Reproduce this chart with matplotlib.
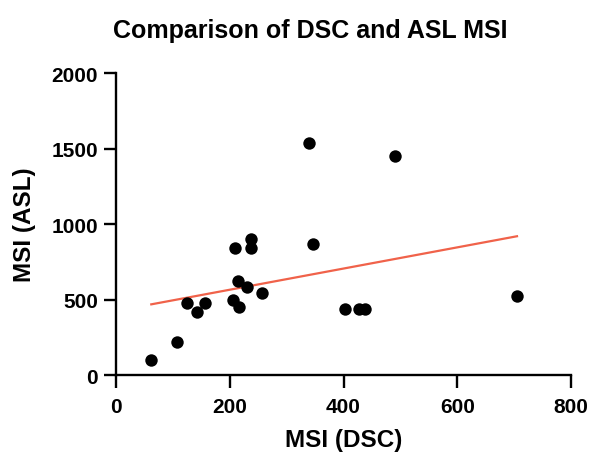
import numpy as np
import matplotlib
matplotlib.use("Agg")
import matplotlib.pyplot as plt

plt.rcParams['font.family'] = ['Liberation Sans', 'DejaVu Sans']

msi_dsc = [62, 107, 124, 143, 157, 205, 216, 214, 231, 257, 209, 238, 238,
           339, 346, 490, 403, 428, 438, 705]
msi_asl = [100, 216, 479, 419, 479, 497, 452, 625, 581, 543, 841, 903, 843,
           1534, 868, 1452, 435, 435, 435, 523]

# regression line as shown in the figure (endpoints at min/max DSC)
fit_x = [62, 705]
fit_y = [468, 919]

x_ticks = [0, 200, 400, 600, 800]
y_ticks = [0, 500, 1000, 1500, 2000]

fig = plt.figure(figsize=(5.91, 4.56), dpi=100)
ax = fig.add_axes([0.1963, 0.1754, 0.7699, 0.6623])

ax.scatter(msi_dsc, msi_asl, s=80, color='black', zorder=3, linewidths=0)
ax.plot(fit_x, fit_y, color='#F0624A', lw=1.6, zorder=2)

ax.set_xlim(0, 800)
ax.set_ylim(0, 2000)
ax.set_xticks(x_ticks)
ax.set_yticks(y_ticks)
for s in ['top', 'right']:
    ax.spines[s].set_visible(False)
for s in ['left', 'bottom']:
    ax.spines[s].set_linewidth(1.7)
ax.tick_params(width=1.7, length=9, labelsize=15)
ax.tick_params(axis='x', pad=7)
ax.tick_params(axis='y', pad=4)
for lab in ax.get_xticklabels() + ax.get_yticklabels():
    lab.set_fontweight('bold')

ax.set_xlabel('MSI (DSC)', fontsize=17.5, fontweight='bold')
ax.set_ylabel('MSI (ASL)', fontsize=17.5, fontweight='bold')
ax.xaxis.set_label_coords(0.5, -0.175)
ax.yaxis.set_label_coords(-0.175, 0.5)
fig.text(0.525, 0.932, 'Comparison of DSC and ASL MSI', fontsize=18,
         fontweight='bold', ha='center', va='center')

fig.savefig('out.png', dpi=100)
